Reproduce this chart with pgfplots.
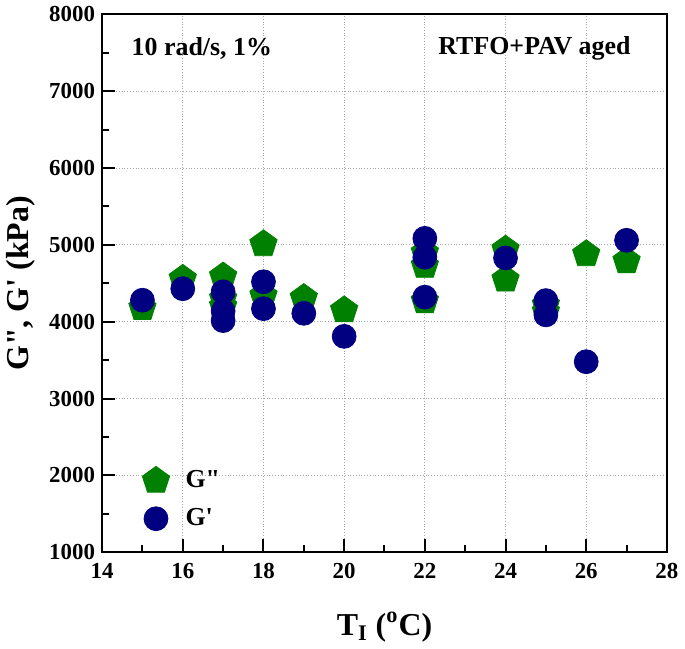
\documentclass[border=0pt]{standalone}
\usepackage{fontspec}
\setmainfont{Liberation Serif}
\usepackage{pgfplots}
\pgfplotsset{compat=1.18}
\definecolor{ggreen}{RGB}{0,128,0}
\definecolor{gnavy}{RGB}{0,0,128}
\begin{document}
\begin{tikzpicture}
\begin{axis}[
  scale only axis,
  width=283.5pt, height=270pt,
  xmin=14, xmax=28, ymin=1000, ymax=8000,
  xtick={14,16,...,28}, ytick={1000,2000,...,8000},
  minor xtick={15,17,...,27}, minor ytick={1500,2500,...,7500},
  xtick pos=bottom, ytick pos=left,
  tick align=inside,
  major tick length=6.5pt, minor tick length=3.5pt,
  every tick/.style={black, line width=1pt},
  axis line style={line width=1pt},
  grid=major,
  major grid style={densely dotted, gray!70, line width=0.5pt},
  /pgf/number format/assume math mode=true,
  /pgf/number format/1000 sep={},
  ticklabel style={font=\bfseries\fontsize{11.5}{13}\selectfont},
  xticklabel style={yshift=-2pt},
  xlabel={\textbf{T\textsubscript{I} (\textsuperscript{o}C)}},
  ylabel={\textbf{G\textquotedbl, G\textquotesingle{} (kPa)}},
  label style={font=\bfseries\fontsize{16}{18}\selectfont},
  xlabel style={yshift=-10pt},
  legend style={draw=none, fill=none, at={(0.06,0.168)}, anchor=north west,
    font=\bfseries\fontsize{13}{15}\selectfont, row sep=5pt},
  legend cell align=left,
]
\addplot[only marks, mark=pentagon*, mark size=7.2pt, color=ggreen] coordinates {
(15,4180) (16,4560) (17,4590) (17,4300) (17,4200) (18,5010) (18,4340)
(19,4310) (20,4150) (22,4900) (22,4730) (22,4270) (24,4940) (24,4550)
(25,4220) (25,4130) (26,4880) (27,4790)
};
\addlegendentry{\hspace{6pt}G\textquotedbl}
\addplot[only marks, mark=*, mark size=6pt, color=gnavy] coordinates {
(15,4280) (16,4430) (17,4390) (17,4140) (17,4015) (18,4520) (18,4170)
(19,4110) (20,3810) (22,5085) (22,4840) (22,4320) (24,4830)
(25,4275) (25,4090) (26,3480) (27,5060)
};
\addlegendentry{\hspace{6pt}G\textquotesingle}
\node[anchor=west, font=\bfseries\fontsize{13}{15}\selectfont] at (rel axis cs:0.04,0.937) {10 rad/s, 1\%};
\node[anchor=east, font=\bfseries\fontsize{13}{15}\selectfont] at (rel axis cs:0.948,0.937) {RTFO+PAV aged};
\end{axis}
\end{tikzpicture}
\end{document}
